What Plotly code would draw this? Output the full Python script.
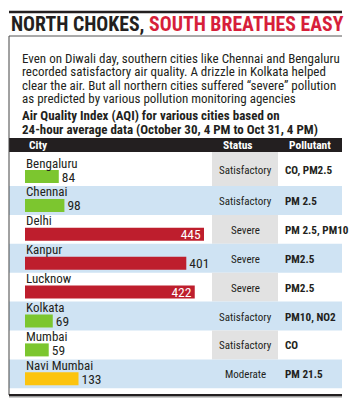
import plotly.graph_objects as go

W, H = 352, 406

cities = ["Bengaluru", "Chennai", "Delhi", "Kanpur", "Lucknow", "Kolkata", "Mumbai", "Navi Mumbai"]
aqi = [84, 98, 445, 401, 422, 69, 59, 133]
status = ["Satisfactory", "Satisfactory", "Severe", "Severe", "Severe", "Satisfactory", "Satisfactory", "Moderate"]
pollutant = ["CO, PM2.5", "PM 2.5", "PM 2.5, PM10", "PM2.5", "PM2.5", "PM10, NO2", "CO", "PM 21.5"]
label_inside = [False, False, True, False, True, False, False, False]
headers = ["City", "Status", "Pollutant"]

title_black = "NORTH CHOKES, "
title_red = "SOUTH BREATHES EASY"
body_lines = [
    "Even on Diwali day, southern cities like Chennai and Bengaluru",
    "recorded satisfactory air quality. A drizzle in Kolkata helped",
    "clear the air. But all northern cities suffered \u201csevere\u201d pollution",
    "as predicted by various pollution monitoring agencies",
]
sub_lines = [
    "Air Quality Index (AQI) for various cities based on",
    "24-hour average data (October 30, 4 PM to Oct 31, 4 PM)",
]

status_colors = {"Satisfactory": "#7cc62f", "Severe": "#be1e2d", "Moderate": "#fcc40f"}

FONT = "Roboto Condensed, DejaVu Sans Condensed, sans-serif"
BLUE = "#cfe3f3"
GRAY = "#e2e2e2"
DARK = "#231f20"

# layout geometry (pixels)
L, R = 9, 342
head_top, head_bot = 138, 152
first_h, row_h = 34, 28.9
row_tops, row_bots = [], []
t = head_bot
for i in range(len(cities)):
    h = first_h if i == 0 else row_h
    row_tops.append(t)
    row_bots.append(t + h)
    t += h
stat_l, stat_r = 212, 278
bar_x0 = 25
scale = 179 / 445.0  # px per AQI unit


def px(x):
    return x / W


def py(y):
    return 1 - y / H


shapes = []
annotations = []

# title rules and box
shapes.append(dict(type="line", xref="paper", yref="paper", x0=px(L), x1=px(R), y0=py(12), y1=py(12),
                   line=dict(color=DARK, width=2.5)))
shapes.append(dict(type="line", xref="paper", yref="paper", x0=px(L), x1=px(R), y0=py(36), y1=py(36),
                   line=dict(color="#555555", width=1)))
shapes.append(dict(type="line", xref="paper", yref="paper", x0=px(L), x1=px(L), y0=py(36), y1=py(395),
                   line=dict(color="#444444", width=1)))
shapes.append(dict(type="line", xref="paper", yref="paper", x0=px(L), x1=px(R), y0=py(396.5), y1=py(396.5),
                   line=dict(color="#9a9a9a", width=2)))
shapes.append(dict(type="line", xref="paper", yref="paper", x0=px(L), x1=px(R), y0=py(395), y1=py(395),
                   line=dict(color=DARK, width=2)))

# header bar
shapes.append(dict(type="rect", xref="paper", yref="paper", x0=px(L), x1=px(R), y0=py(head_bot), y1=py(head_top),
                   fillcolor=DARK, line=dict(width=0), layer="below"))

# row backgrounds
for i in range(len(cities)):
    if i % 2 == 1:
        shapes.append(dict(type="rect", xref="paper", yref="paper", x0=px(L), x1=px(R),
                           y0=py(row_bots[i]), y1=py(row_tops[i]), fillcolor=BLUE, line=dict(width=0),
                           layer="below"))
    else:
        shapes.append(dict(type="rect", xref="paper", yref="paper", x0=px(stat_l), x1=px(stat_r),
                           y0=py(row_bots[i]), y1=py(row_tops[i]), fillcolor=GRAY, line=dict(width=0),
                           layer="below"))

# title
annotations.append(dict(xref="paper", yref="paper", x=px(9), y=py(24.5), xanchor="left", yanchor="middle",
                        showarrow=False,
                        text="<b>" + title_black + "<span style='color:#d71f3a'>" + title_red + "</span></b>",
                        font=dict(family=FONT, size=19.8, color=DARK, weight=900)))
# body
for k, line in enumerate(body_lines):
    annotations.append(dict(xref="paper", yref="paper", x=px(20), y=py(58.5 + k * 13.4), xanchor="left",
                            yanchor="middle", showarrow=False, text=line,
                            font=dict(family=FONT, size=13, color=DARK)))
for k, line in enumerate(sub_lines):
    annotations.append(dict(xref="paper", yref="paper", x=px(20), y=py(115 + k * 14), xanchor="left",
                            yanchor="middle", showarrow=False, text="<b>" + line + "</b>",
                            font=dict(family=FONT, size=13, color=DARK)))
# headers
hy = py((head_top + head_bot) / 2)
annotations.append(dict(xref="paper", yref="paper", x=px(27), y=hy, xanchor="left", yanchor="middle",
                        showarrow=False, text="<b>" + headers[0] + "</b>",
                        font=dict(family=FONT, size=11.5, color="white")))
annotations.append(dict(xref="paper", yref="paper", x=px(238), y=hy, xanchor="center", yanchor="middle",
                        showarrow=False, text="<b>" + headers[1] + "</b>",
                        font=dict(family=FONT, size=11.5, color="white")))
annotations.append(dict(xref="paper", yref="paper", x=px(287), y=hy, xanchor="left", yanchor="middle",
                        showarrow=False, text="<b>" + headers[2] + "</b>",
                        font=dict(family=FONT, size=11.5, color="white")))

# row text
for i in range(len(cities)):
    annotations.append(dict(xref="paper", yref="paper", x=px(24), y=py(row_bots[i] - 23), xanchor="left",
                            yanchor="middle", showarrow=False, text=cities[i],
                            font=dict(family=FONT, size=13, color=DARK)))
    cy = py((row_tops[i] + row_bots[i]) / 2 + 1)
    annotations.append(dict(xref="paper", yref="paper", x=px(245), y=cy, xanchor="center", yanchor="middle",
                            showarrow=False, text=status[i], font=dict(family=FONT, size=11, color=DARK)))
    annotations.append(dict(xref="paper", yref="paper", x=px(283), y=cy, xanchor="left", yanchor="middle",
                            showarrow=False, text="<b>" + pollutant[i] + "</b>",
                            font=dict(family=FONT, size=11.2, color=DARK)))

bar_y = [b - 3 - 6.5 for b in row_bots]
colors = [status_colors[s] for s in status]

fig = go.Figure(go.Bar(
    x=aqi, y=bar_y, orientation="h", width=13,
    marker=dict(color=colors, line=dict(width=0)),
    text=[str(v) for v in aqi],
    textposition=["inside" if f else "outside" for f in label_inside],
    insidetextanchor="end",
    textfont=dict(family=FONT, size=13.5, color=["white" if f else DARK for f in label_inside]),
    constraintext="none", cliponaxis=False, hoverinfo="skip",
))

fig.update_layout(
    width=W, height=H, margin=dict(l=0, r=0, t=0, b=0),
    paper_bgcolor="white", plot_bgcolor="rgba(0,0,0,0)",
    showlegend=False,
    xaxis=dict(domain=[bar_x0 / W, 1], range=[0, (W - bar_x0) / scale], visible=False, fixedrange=True),
    yaxis=dict(domain=[0, 1], range=[H, 0], visible=False, fixedrange=True),
    shapes=shapes, annotations=annotations,
)

fig.write_html("out.html")
